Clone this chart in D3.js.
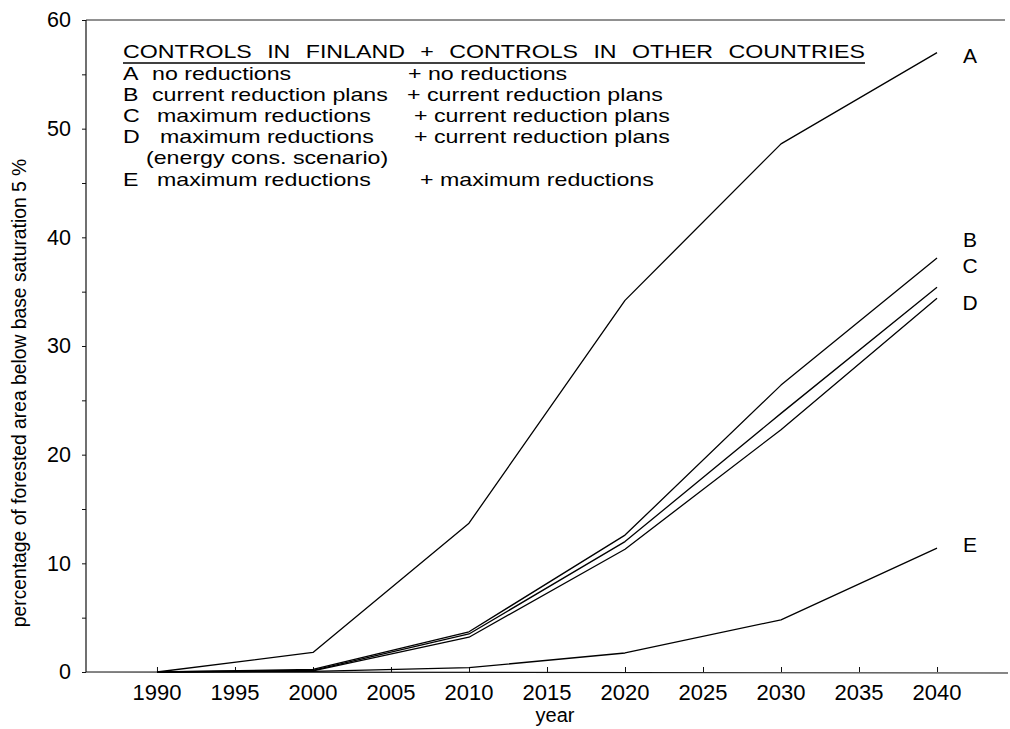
<!DOCTYPE html>
<html>
<head>
<meta charset="utf-8">
<script src="https://cdn.jsdelivr.net/npm/d3@7"></script>
<style>
  html, body { margin: 0; padding: 0; background: #fff; }
  svg { display: block; }
  text { font-family: "Liberation Sans", Arial, Helvetica, sans-serif; fill: #000; }
</style>
</head>
<body>
<svg id="chart" width="1010" height="729"></svg>
<script>
// Share of forested area below base saturation 5 %, by scenario
const years = [1990, 2000, 2010, 2020, 2030, 2040];
const seriesA = [0, 1.8, 13.7, 34.2, 48.6, 57.0];
const seriesB = [0, 0.25, 3.7, 12.6, 26.4, 38.1];
const seriesC = [0, 0.15, 3.5, 12.0, 23.8, 35.4];
const seriesD = [0, 0.1, 3.2, 11.3, 22.3, 34.4];
const seriesE = [0, 0.05, 0.4, 1.75, 4.8, 11.4];
const seriesNames = ["A", "B", "C", "D", "E"];

const xTicks = [1990, 1995, 2000, 2005, 2010, 2015, 2020, 2025, 2030, 2035, 2040];
const yTicks = [0, 10, 20, 30, 40, 50, 60];
const yMinorTicks = [5, 15, 25, 35, 45, 55];

const legendTitle = "CONTROLS IN FINLAND + CONTROLS IN OTHER COUNTRIES";
const legendKeys = ["A", "B", "C", "D", "", "E"];
const legendFinland = ["no reductions", "current reduction plans", "maximum reductions",
                       "maximum reductions", "(energy cons. scenario)", "maximum reductions"];
const legendOther = ["+ no reductions", "+ current reduction plans", "+ current reduction plans",
                     "+ current reduction plans", "", "+ maximum reductions"];

const svg = d3.select("#chart");

const plot = { left: 86, right: 1008, top: 20, bottom: 672 };

const x = d3.scaleLinear().domain([1985.45, 2044.55]).range([plot.left, plot.right]);
const y = d3.scaleLinear().domain([0, 60]).range([plot.bottom, plot.top]);

// frame: top border, left and bottom axes
svg.append("line")
  .attr("x1", plot.left).attr("x2", plot.right - 3)
  .attr("y1", plot.top).attr("y2", plot.top)
  .attr("stroke", "#222").attr("stroke-width", 1);

const xAxis = svg.append("g")
  .attr("transform", `translate(0,${plot.bottom})`)
  .call(d3.axisTop(x).tickValues(xTicks).tickSize(5).tickFormat(""))
  .call(g => g.select(".domain").remove());
xAxis.selectAll(".tick line").attr("stroke", "#111");
svg.append("line")
  .attr("x1", plot.left).attr("x2", plot.right)
  .attr("y1", plot.bottom).attr("y2", plot.bottom + 1)
  .attr("stroke", "#111").attr("stroke-width", 1.2);

svg.append("g")
  .selectAll("text")
  .data(xTicks)
  .join("text")
  .attr("x", d => x(d))
  .attr("y", 700)
  .attr("text-anchor", "middle")
  .style("font-size", "22px")
  .text(d => d);

const yAxis = svg.append("g")
  .attr("transform", `translate(${plot.left},0)`)
  .call(d3.axisLeft(y).tickValues(yTicks).tickSize(4).tickPadding(11).tickFormat(d3.format("d")))
  .call(g => g.select(".domain").remove());
yAxis.selectAll(".tick line").attr("stroke", "#111");
yAxis.selectAll(".tick text")
  .style("font-size", "21.5px")
  .style("font-family", '"Liberation Sans", Arial, sans-serif')
  .attr("fill", "#000");

svg.append("g")
  .attr("transform", `translate(${plot.left},0)`)
  .call(d3.axisLeft(y).tickValues(yMinorTicks).tickSize(4).tickFormat(""))
  .call(g => g.select(".domain").remove())
  .selectAll(".tick line").attr("stroke", "#111");

svg.append("line")
  .attr("x1", plot.left).attr("x2", plot.left)
  .attr("y1", plot.top).attr("y2", plot.bottom)
  .attr("stroke", "#111").attr("stroke-width", 1.2);

// axis titles
svg.append("text")
  .attr("transform", "translate(26,393) rotate(-90)")
  .attr("text-anchor", "middle")
  .style("font-size", "19.3px")
  .text("percentage of forested area below base saturation 5 %");

svg.append("text")
  .attr("x", 555).attr("y", 722)
  .attr("text-anchor", "middle")
  .style("font-size", "20px")
  .text("year");

// scenario curves
const allSeries = [seriesA, seriesB, seriesC, seriesD, seriesE];
const line = d3.line().x(d => x(d[0])).y(d => y(d[1]));

svg.append("g")
  .selectAll("path")
  .data(allSeries)
  .join("path")
  .attr("d", s => line(years.map((yr, i) => [yr, s[i]])))
  .attr("fill", "none")
  .attr("stroke", "#000")
  .attr("stroke-width", 1.3)
  .attr("stroke-linejoin", "round");

// end-of-line scenario letters
const endLabelNudge = { A: 3, B: -18, C: -21, D: 5, E: -3 };
svg.append("g")
  .selectAll("text")
  .data(seriesNames)
  .join("text")
  .attr("x", 970)
  .attr("y", (d, i) => y(allSeries[i][allSeries[i].length - 1]) + 7 + endLabelNudge[d])
  .attr("text-anchor", "middle")
  .style("font-size", "21px")
  .text(d => d);

// legend block: a compact typeface widened horizontally, rows set tight
const legendSize = 19;
const legendStretch = 1.22;
const legend = svg.append("g");

function legendText(str, px, py) {
  const t = legend.append("text")
    .attr("x", px).attr("y", py)
    .style("font-size", legendSize + "px")
    .text(str);
  const w = t.node().getComputedTextLength();
  if (w > 0) {
    t.attr("textLength", w * legendStretch).attr("lengthAdjust", "spacingAndGlyphs");
  }
  return t;
}

const title = legend.append("text")
  .attr("x", 123).attr("y", 58)
  .style("font-size", legendSize + "px")
  .text(legendTitle);
title.attr("textLength", 742).attr("lengthAdjust", "spacingAndGlyphs");
// spread the words so the glyphs keep the same widening as the rows below
const natural = title.node().getComputedTextLength();
const gaps = legendTitle.split(" ").length - 1;
title.attr("textLength", null).attr("lengthAdjust", null);
const plain = title.node().getComputedTextLength();
title.style("word-spacing", `${Math.max(0, (742 / legendStretch - plain) / gaps)}px`);
title.attr("textLength", 742).attr("lengthAdjust", "spacingAndGlyphs");

legend.append("line")
  .attr("x1", 123).attr("x2", 865)
  .attr("y1", 63).attr("y2", 63)
  .attr("stroke", "#000").attr("stroke-width", 1.3);

const rowY = [80, 101, 122, 143, 164, 186];
const finX = [152, 152, 157, 160, 146, 157];
const othX = [408, 407, 414, 414, 0, 420];

legendKeys.forEach((k, i) => {
  if (k) legendText(k, 123, rowY[i]);
  legendText(legendFinland[i], finX[i], rowY[i]);
  if (legendOther[i]) legendText(legendOther[i], othX[i], rowY[i]);
});
</script>
</body>
</html>
